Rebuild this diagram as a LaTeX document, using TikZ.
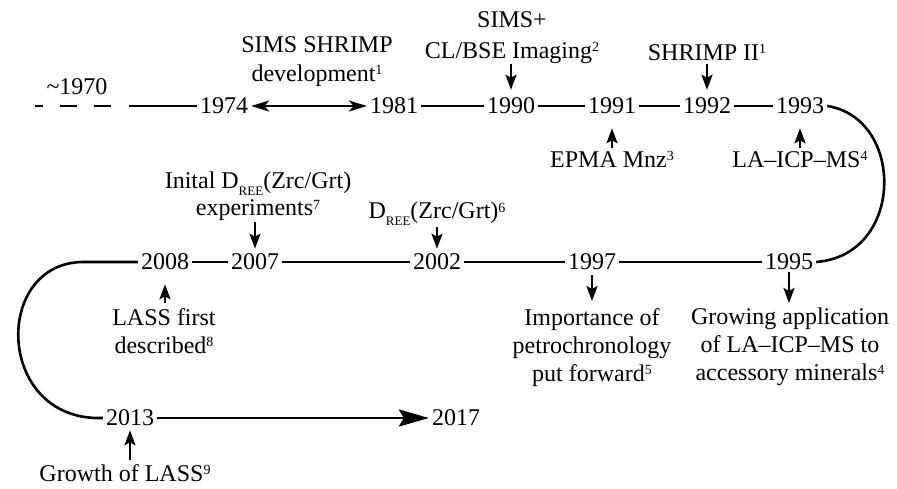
\documentclass[tikz,border=0pt]{standalone}
\usepackage{fontspec}
\setmainfont{Liberation Serif}
\usetikzlibrary{arrows.meta}
% reference numbers and chemical subscripts
\newcommand\fnref[1]{\raisebox{6.8pt}{\fontsize{14}{14}\selectfont #1}}
\newcommand\ree{\raisebox{-6.5pt}{\fontsize{13}{13}\selectfont REE}}
\begin{document}
\begin{tikzpicture}[x=1pt,y=-1pt,
  every node/.style={font=\fontsize{24}{28}\selectfont, inner sep=0pt},
  yr/.style={inner xsep=3pt, inner ysep=0pt},
  lbl/.style={align=center},
  tl/.style={line width=2.6pt},
  dashedtl/.style={line width=2.6pt, dash pattern=on 17pt off 17pt, dash phase=9pt},
  varrow/.style={line width=2.4pt, -{Stealth[length=15pt,width=11pt,inset=3pt]}},
  dblarrow/.style={line width=2.6pt, {Stealth[length=18pt,width=11pt,inset=5pt]}-{Stealth[length=18pt,width=11pt,inset=5pt]}},
  bigarrow/.style={line width=2.6pt, -{Stealth[length=30pt,width=17pt,inset=5pt]}}]
\useasboundingbox (0,0) rectangle (897,488);

% years, first row
\node[yr] (y1974) at (224,106) {1974};
\node[yr] (y1981) at (394,106) {1981};
\node[yr] (y1990) at (511,106) {1990};
\node[yr] (y1991) at (612,106) {1991};
\node[yr] (y1992) at (707,106) {1992};
\node[yr] (y1993) at (800,106) {1993};
% years, second row
\node[yr] (y2008) at (165,262) {2008};
\node[yr] (y2007) at (255,262) {2007};
\node[yr] (y2002) at (437,262) {2002};
\node[yr] (y1997) at (592,262) {1997};
\node[yr] (y1995) at (789,262) {1995};
% years, third row
\node[yr] (y2013) at (130,418) {2013};
\node[yr] (y2017) at (456,418) {2017};

% event labels
\node[lbl, anchor=north] (l1970) at (77,78) {\textasciitilde1970};
\node[lbl, anchor=north] (lsims) at (317,36) {SIMS SHRIMP\\[1pt]development\fnref{1}};
\node[lbl, anchor=north] (lcl) at (512,11) {SIMS+\\[3pt]CL/BSE Imaging\fnref{2}};
\node[lbl, anchor=north] (lshr) at (707,44) {SHRIMP II\fnref{1}};
\node[lbl, anchor=north] (lepma) at (612,151) {EPMA Mnz\fnref{3}};
\node[lbl, anchor=north] (lla) at (800,151) {LA–ICP–MS\fnref{4}};
\node[lbl, anchor=north] (linit) at (258,172) {Inital D\ree(Zrc/Grt)\\[-1pt]experiments\fnref{7}};
\node[lbl, anchor=north] (ldree) at (437,202) {D\ree(Zrc/Grt)\fnref{6}};
\node[lbl, anchor=north] (llass) at (164,308) {LASS first\\described\fnref{8}};
\node[lbl, anchor=north] (limp) at (592,308) {Importance of\\petrochronology\\put forward\fnref{5}};
\node[lbl, anchor=north] (lgrow) at (790,308) {Growing application\\of LA–ICP–MS to\\accessory minerals\fnref{4}};
\node[lbl, anchor=north] (lgro) at (125,464) {Growth of LASS\fnref{9}};

% free ends of the event arrows
\coordinate (t1990) at (511,64);
\coordinate (t1992) at (707,64);
\coordinate (t1991) at (612,148);
\coordinate (t1993) at (800,148);
\coordinate (t2007) at (255,222);
\coordinate (t2002) at (437,227);
\coordinate (t2008) at (165,303);
\coordinate (t2013) at (130,460);
\coordinate (h1997) at (592,301);
\coordinate (h1995) at (789,303);

% timeline start
\coordinate (d0) at (35,106);
\coordinate (d1) at (111,106);
\coordinate (s0) at (129,106);
\draw[dashedtl] (d0) -- (d1);
\draw[tl] (s0) -- (y1974);
\draw[dblarrow] (y1974) -- (y1981);
\draw[tl] (y1981) -- (y1990);
\draw[tl] (y1990) -- (y1991);
\draw[tl] (y1991) -- (y1992);
\draw[tl] (y1992) -- (y1993);

% turn to the second row
\draw[tl] (y1993.east) .. controls (905,118) and (905,255) .. (y1995.east);

\draw[tl] (y2008) -- (y2007);
\draw[tl] (y2007) -- (y2002);
\draw[tl] (y2002) -- (y1997);
\draw[tl] (y1997) -- (y1995);

% turn to the third row
\coordinate (k1) at (82,262);
\coordinate (k2) at (95,418);
\draw[tl] (y2008) -- (k1) .. controls (-6,264) and (-4,414) .. (k2) -- (y2013);
\draw[bigarrow] (y2013) -- (y2017);

% event arrows
\draw[varrow, shorten >=8pt] (t1990) -- (y1990);
\draw[varrow, shorten >=8pt] (t1992) -- (y1992);
\draw[varrow, shorten >=14pt] (t1991) -- (y1991);
\draw[varrow, shorten >=14pt] (t1993) -- (y1993);
\draw[varrow, shorten >=5pt] (t2007) -- (y2007);
\draw[varrow, shorten >=5pt] (t2002) -- (y2002);
\draw[varrow, shorten >=14pt] (t2008) -- (y2008);
\draw[varrow, shorten >=4pt] (t2013) -- (y2013);
\draw[varrow, shorten <=5pt] (y1997) -- (h1997);
\draw[varrow, shorten <=2pt] (y1995) -- (h1995);
\end{tikzpicture}
\end{document}
